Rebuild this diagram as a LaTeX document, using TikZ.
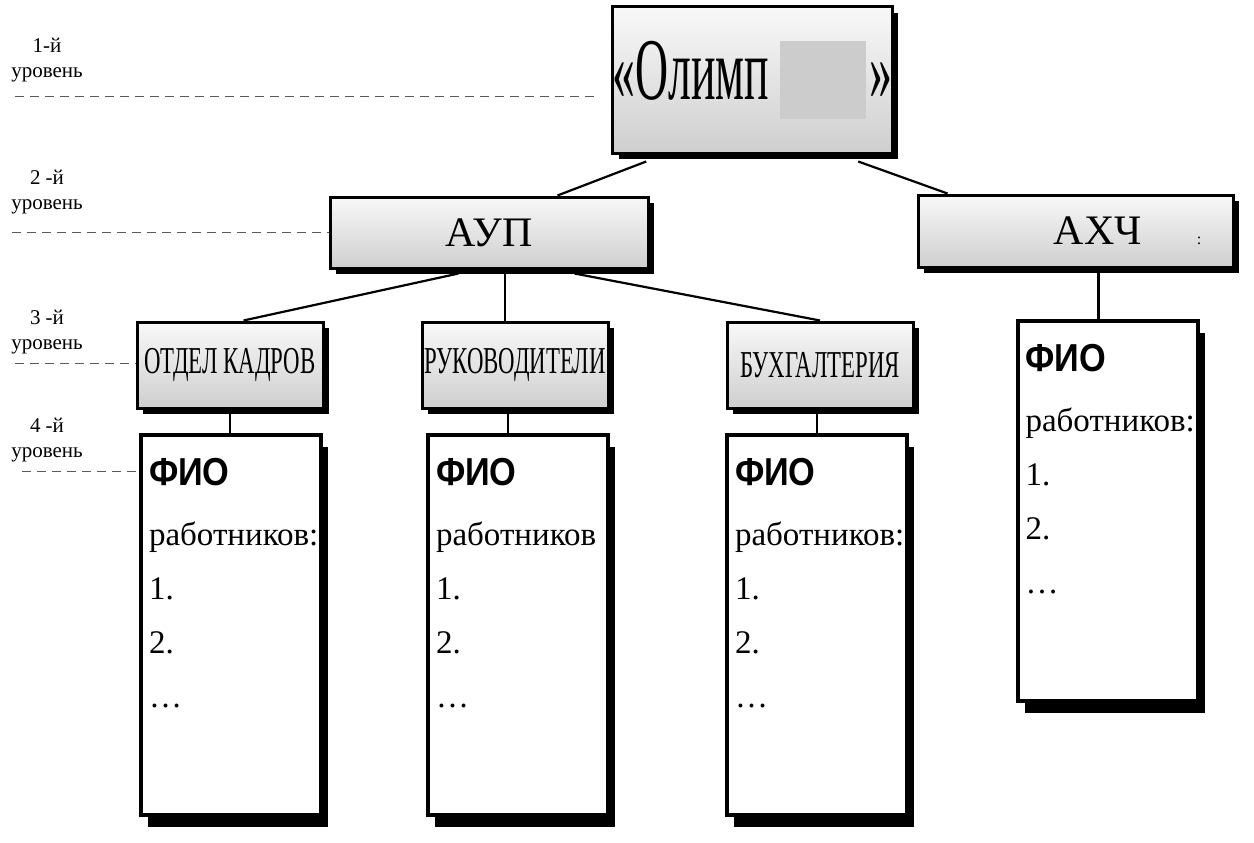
\documentclass[tikz,border=0pt]{standalone}
\usepackage{fontspec}
\setmainfont{Liberation Serif}
\newfontfamily\narrowfont{Liberation Serif}[FakeStretch=0.6]
\newfontfamily\olimpfont{Liberation Serif}[FakeStretch=0.52]
\newfontfamily\fiofont{Liberation Sans}[FakeStretch=0.88]
\usepackage{tikz}
\usetikzlibrary{shadows,positioning}

\definecolor{blankgray}{HTML}{CCCCCC}

\newcommand{\fiolist}[1]{\parbox[c][380pt][t]{164pt}{\raggedright
  \fontsize{33}{54}\selectfont
  \rule{0pt}{50pt}{\fiofont\bfseries\fontsize{39}{39}\selectfont ФИО}\\[6pt]
  #1\\ 1.\\ 2.\\ …}}

\tikzset{
  levelbox/.style={draw=black, line width=3pt, top color=gray!5, bottom color=gray!38,
    inner sep=0pt, drop shadow={shadow xshift=6pt, shadow yshift=-6pt, fill=black, opacity=1}},
  deptbox/.style={levelbox, minimum width=186pt, minimum height=86pt,
    font=\narrowfont\fontsize{38}{38}\selectfont},
  fiobox/.style={draw=black, line width=4pt, fill=white, inner sep=0pt, inner xsep=8pt,
    minimum width=180pt, minimum height=380pt,
    drop shadow={shadow xshift=7pt, shadow yshift=-12pt, fill=black, opacity=1}},
  link/.style={line width=2.2pt},
  levelline/.style={black!65, line width=1pt, dash pattern=on 9pt off 6pt},
  levellabel/.style={font=\fontsize{21}{25}\selectfont, align=center, anchor=north, inner sep=0pt}
}

\begin{document}
\begin{tikzpicture}[x=1pt,y=-1pt]
\useasboundingbox (0,0) rectangle (1254,843);

% levels
\node[levellabel] (lev1) at (47,38) {1-й\\уровень};
\node[levellabel] (lev2) at (47,170) {2 -й\\уровень};
\node[levellabel] (lev3) at (47,310) {3 -й\\уровень};
\node[levellabel] (lev4) at (47,418) {4 -й\\уровень};

% boxes
\node[levelbox, minimum width=275pt, minimum height=146pt] (olimp) at (752.5,80)
  {\olimpfont\fontsize{88}{88}\selectfont «Олимп\hspace{11pt}\textcolor{blankgray}{\rule[-20pt]{86pt}{79pt}}\hspace{3pt}»};
\node[levelbox, minimum width=318pt, minimum height=71pt,
  font=\fontsize{42}{42}\selectfont] (aup) at (489,232.5) {АУП};
\node[levelbox, minimum width=315pt, minimum height=72pt,
  font=\fontsize{42}{42}\selectfont] (ahch) at (1075.5,231)
  {\hspace*{104pt}АХЧ\hspace{55pt}{\fontsize{16}{16}\selectfont :}};
\node[deptbox] (otdel) at (230,365) {ОТДЕЛ КАДРОВ};
\node[deptbox] (ruk) at (515,365) {РУКОВОДИТЕЛИ};
\node[deptbox] (buh) at (820,365) {БУХГАЛТЕРИЯ};
\node[fiobox] (fio1) at (231,625) {\fiolist{работников:}};
\node[fiobox] (fio2) at (518,625) {\fiolist{работников}};
\node[fiobox] (fio3) at (817,625) {\fiolist{работников:}};
\node[fiobox] (fio4) at (1107.5,511) {\fiolist{работников:}};

% level lines
\coordinate (l1) at (15,97);
\coordinate (l1e) at (597,97);
\coordinate (l2) at (12,232.5);
\coordinate (l3) at (15,363);
\coordinate (l4) at (22,471);
\draw[levelline] (l1) -- (l1e);
\draw[levelline] (l2) -- (l2 -| aup.west);
\draw[levelline] (l3) -- (l3 -| otdel.west);
\draw[levelline] (l4) -- (l4 -| fio1.west);

% connectors
\draw[link] ([xshift=35pt,yshift=-7pt]olimp.south west) -- ([xshift=229pt]aup.north west);
\draw[link] ([xshift=247pt,yshift=-7pt]olimp.south west) -- ([xshift=31pt]ahch.north west);
\draw[link] ([xshift=130pt,yshift=-4pt]aup.south west) -- ([xshift=108pt]otdel.north west);
\draw[link] ([xshift=16pt]aup.south) -- ([xshift=16pt]aup.south |- ruk.north);
\draw[link] ([xshift=246pt,yshift=-4pt]aup.south west) -- (buh.north);
\draw[link] (otdel.south) -- (otdel.south |- fio1.north);
\draw[link] ([xshift=-7pt]ruk.south) -- ([xshift=-7pt]ruk.south |- fio2.north);
\draw[link] ([xshift=-3pt]buh.south) -- ([xshift=-3pt]buh.south |- fio3.north);
\draw[link] ([xshift=23pt]ahch.south) -- ([xshift=23pt]ahch.south |- fio4.north);
\end{tikzpicture}
\end{document}
